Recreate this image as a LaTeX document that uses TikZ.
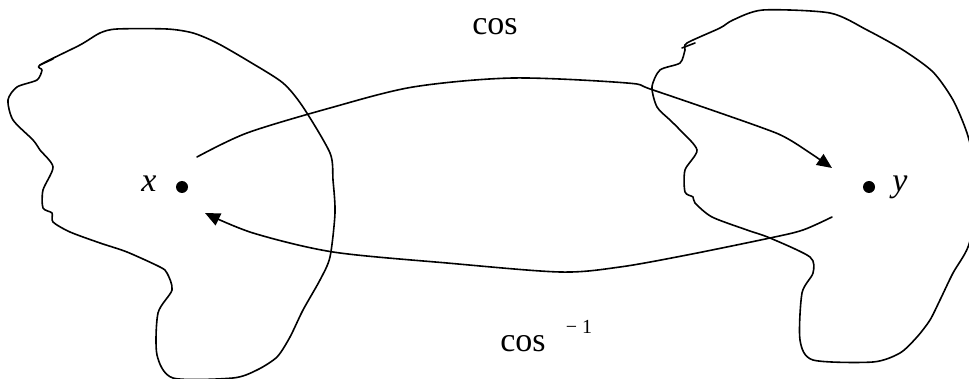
\documentclass[tikz,border=0pt]{standalone}
\usepackage{fontspec}
\setmainfont{Liberation Serif}
\usetikzlibrary{arrows.meta}
\begin{document}
\begin{tikzpicture}[x=1pt,y=-1pt,
  pen/.style={line width=1.6pt, line join=round, line cap=round},
  blob/.style={pen, smooth cycle, tension=0.45},
  arr/.style={pen, -{Triangle[length=15pt,width=13pt]}},
  dotnode/.style={circle, fill=black, inner sep=0pt, minimum size=12pt},
  lbl/.style={font=\fontsize{34}{40}\selectfont, inner sep=0pt, anchor=base},
  suplbl/.style={font=\fontsize{20}{24}\selectfont, inner sep=0pt, anchor=base}]
\useasboundingbox (0,0) rectangle (969,379);
\clip (0,0) rectangle (969,379);
% left region
\draw[blob] plot coordinates {(40,65) (80,45) (100,33) (117,29) (167,29) (193,33) (217,43) (250,62) (283,83) (303,107) (330,153) (333,180) (335,213) (330,257) (320,280) (303,310) (290,337) (277,357) (257,370) (233,378) (173,378) (157,355) (158,313) (172,290) (167,273) (160,267) (127,252) (100,243) (70,232) (53,222) (52,213) (43,208) (43,190) (53,167) (40,150) (33,140) (13,120) (8,100) (17,87) (37,80) (42,70)};
\draw[pen] (40,65) -- (53,59);
% right region
\draw[blob] plot coordinates {(687,43) (720,28) (733,20) (763,10) (830,13) (867,30) (903,50) (933,72) (953,100) (967,133) (976,170) (978,205) (968,247) (953,273) (940,300) (930,320) (917,337) (900,353) (873,362) (813,360) (800,340) (802,293) (813,273) (810,257) (770,238) (747,230) (712,217) (695,203) (693,197) (685,192) (685,170) (697,150) (680,130) (670,120) (657,107) (652,87) (660,70) (680,63) (685,50)};
\draw[pen] (682,48) -- (695,43);
% points
\node[dotnode] (xd) at (182,187) {};
\node[dotnode] (yd) at (869,187) {};
\node[lbl] (xl) at (149,192) {\itshape x};
\node[lbl] (yl) at (900,192) {\itshape y};
% labels
\node[lbl] (cosl) at (495,35) {cos};
\node[lbl] (cosil) at (523,351) {cos};
\node[suplbl] (supl) at (579,333) {− 1};
% connector ends
\coordinate (s1) at (197,157);
\coordinate (e1) at (832,168);
\coordinate (s2) at (832,217);
\coordinate (e2) at (205,213);
\draw[arr] plot[smooth, tension=0.5] coordinates {(s1) (247,133) (330,108) (413,87) (513,78) (627,83) (653,90) (760,127) (790,140) (e1)};
\draw[arr] plot[smooth, tension=0.5] coordinates {(s2) (803,230) (770,238) (687,255) (620,267) (560,272) (447,263) (333,252) (253,233) (e2)};
\end{tikzpicture}
\end{document}
